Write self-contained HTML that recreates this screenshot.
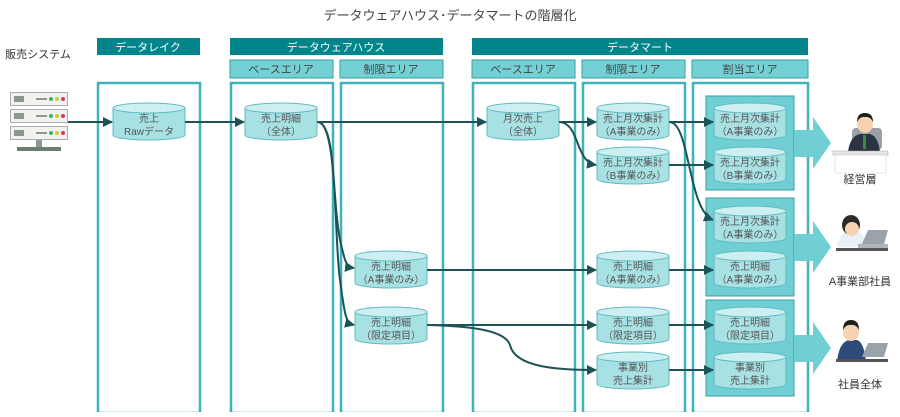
<!DOCTYPE html>
<html><head><meta charset="utf-8"><style>
body{margin:0;background:#fff}
text{font-family:"Liberation Sans","Noto Sans CJK JP",sans-serif}
</style></head><body>
<svg width="900" height="412" viewBox="0 0 900 412" xmlns="http://www.w3.org/2000/svg">
<defs>
<marker id="ah" viewBox="0 0 10 10" refX="9" refY="5" markerWidth="5" markerHeight="5" orient="auto" markerUnits="strokeWidth"><path d="M0,0 L10,5 L0,10 z" fill="#1d5357"/></marker>
<g id="cyl">
<path d="M0,5 V32 A36,5 0 0 0 72,32 V5" fill="#a8e1e4" stroke="#5fbcc1" stroke-width="1"/>
<ellipse cx="36" cy="5" rx="36" ry="5" fill="#cdeff1" stroke="#5fbcc1" stroke-width="1"/>
</g>
</defs>
<text x="450" y="20" font-size="13" fill="#444" text-anchor="middle">データウェアハウス･データマートの階層化</text>
<g fill="#00858a">
<rect x="97" y="38" width="103" height="17"/><rect x="230" y="38" width="213" height="17"/><rect x="472" y="38" width="336" height="17"/>
</g>
<g font-size="11" fill="#fff" text-anchor="middle">
<text x="148" y="51">データレイク</text><text x="336" y="51">データウェアハウス</text><text x="640" y="51">データマート</text>
</g>
<g fill="#73d1d6" stroke="#3a9ea3" stroke-width="1">
<rect x="230" y="60" width="103" height="18"/><rect x="340" y="60" width="103" height="18"/>
<rect x="472" y="60" width="103" height="18"/><rect x="582" y="60" width="103" height="18"/><rect x="692" y="60" width="116" height="18"/>
</g>
<g font-size="11" fill="#444" text-anchor="middle">
<text x="281" y="73">ベースエリア</text><text x="391" y="73">制限エリア</text>
<text x="523" y="73">ベースエリア</text><text x="633" y="73">制限エリア</text><text x="750" y="73">割当エリア</text>
</g>
<g fill="none" stroke="#3fb3b8" stroke-width="2.5">
<rect x="98" y="83" width="102" height="330"/><rect x="231" y="83" width="102" height="330"/><rect x="341" y="83" width="102" height="330"/>
<rect x="473" y="83" width="102" height="330"/><rect x="583" y="83" width="102" height="330"/><rect x="693" y="83" width="115" height="330"/>
</g>
<g fill="#6fcfd4" stroke="#3a9ea3" stroke-width="1">
<rect x="706" y="96" width="88" height="94"/><rect x="706" y="198" width="88" height="98"/><rect x="706" y="300" width="88" height="96"/>
</g>
<g fill="#6fcfd4">
<path d="M794,130 H813 V117 L831,143 L813,169 V157 H794 z"/>
<path d="M794,234 H813 V221 L831,247 L813,273 V261 H794 z"/>
<path d="M794,335 H813 V322 L831,348 L813,374 V362 H794 z"/>
</g>
<use href="#cyl" x="113" y="103"/><use href="#cyl" x="245" y="103"/><use href="#cyl" x="487" y="103"/>
<use href="#cyl" x="597" y="103"/><use href="#cyl" x="597" y="147"/>
<use href="#cyl" x="355" y="251"/><use href="#cyl" x="355" y="307"/>
<use href="#cyl" x="597" y="251"/><use href="#cyl" x="597" y="307"/><use href="#cyl" x="597" y="352"/>
<use href="#cyl" x="714" y="103"/><use href="#cyl" x="714" y="147"/><use href="#cyl" x="714" y="206"/><use href="#cyl" x="714" y="251"/><use href="#cyl" x="714" y="307"/><use href="#cyl" x="714" y="352"/>
<g font-size="10" fill="#555" text-anchor="middle">
<text x="149" y="122">売上</text><text x="149" y="135">Rawデータ</text>
<text x="281" y="122">売上明細</text><text x="281" y="135">（全体）</text>
<text x="523" y="122">月次売上</text><text x="523" y="135">（全体）</text>
<text x="633" y="122">売上月次集計</text><text x="633" y="135">（A事業のみ）</text>
<text x="633" y="166">売上月次集計</text><text x="633" y="179">（B事業のみ）</text>
<text x="391" y="270">売上明細</text><text x="391" y="283">（A事業のみ）</text>
<text x="391" y="326">売上明細</text><text x="391" y="339">（限定項目）</text>
<text x="633" y="270">売上明細</text><text x="633" y="283">（A事業のみ）</text>
<text x="633" y="326">売上明細</text><text x="633" y="339">（限定項目）</text>
<text x="633" y="371">事業別</text><text x="633" y="384">売上集計</text>
<text x="750" y="122">売上月次集計</text><text x="750" y="135">（A事業のみ）</text>
<text x="750" y="166">売上月次集計</text><text x="750" y="179">（B事業のみ）</text>
<text x="750" y="225">売上月次集計</text><text x="750" y="238">（A事業のみ）</text>
<text x="750" y="270">売上明細</text><text x="750" y="283">（A事業のみ）</text>
<text x="750" y="326">売上明細</text><text x="750" y="339">（限定項目）</text>
<text x="750" y="371">事業別</text><text x="750" y="384">売上集計</text>
</g>
<g fill="none" stroke="#1d5357" stroke-width="2" marker-end="url(#ah)">
<path d="M68,122 H112"/><path d="M185,122 H244"/><path d="M317,122 H486"/>
<path d="M318,122 C336,124 332,200 340,240 C345,262 346,267 354,268"/>
<path d="M318,122 C338,124 334,240 340,280 C345,318 346,323 354,325"/>
<path d="M559,122 H596"/>
<path d="M560,122 C580,124 575,162 596,165"/>
<path d="M669,122 H713"/><path d="M669,165 H713"/>
<path d="M670,122 C690,124 688,210 713,220"/>
<path d="M427,270 H596"/><path d="M669,270 H713"/>
<path d="M427,325 H596"/><path d="M669,325 H713"/>
<path d="M427,325 C470,326 505,330 510,345 C515,368 560,370 596,370"/>
<path d="M669,370 H713"/>
</g>
<text x="38" y="58" font-size="11" fill="#333" text-anchor="middle">販売システム</text>
<g>
<rect x="36" y="140" width="6" height="8" fill="#8a9a8e"/>
<rect x="17" y="147" width="44" height="4" fill="#6d7d72"/>
<g fill="#f1f1ef" stroke="#a9afaa">
<rect x="10.5" y="92.5" width="57" height="13"/><rect x="10.5" y="109.5" width="57" height="13"/><rect x="10.5" y="126.5" width="57" height="13"/>
</g>
<g fill="#8d968f"><rect x="14" y="96" width="10" height="6"/><rect x="14" y="113" width="10" height="6"/><rect x="14" y="130" width="10" height="6"/>
<rect x="36" y="98" width="11" height="2"/><rect x="36" y="115" width="11" height="2"/><rect x="36" y="132" width="11" height="2"/></g>
<g><circle cx="51" cy="99" r="2" fill="#3cb371"/><circle cx="57" cy="99" r="2" fill="#d4c62a"/><circle cx="63" cy="99" r="2" fill="#d6336c"/>
<circle cx="51" cy="116" r="2" fill="#3cb371"/><circle cx="57" cy="116" r="2" fill="#d4c62a"/><circle cx="63" cy="116" r="2" fill="#d6336c"/>
<circle cx="51" cy="133" r="2" fill="#3cb371"/><circle cx="57" cy="133" r="2" fill="#d4c62a"/><circle cx="63" cy="133" r="2" fill="#d6336c"/></g>
</g>
<g>
<rect x="852" y="128" width="30" height="22" rx="4" fill="#9aa0a6"/>
<path d="M848,152 Q850,136 860,134 H870 Q878,136 880,152 z" fill="#2b3440"/>
<rect x="863" y="135" width="3" height="14" fill="#3b8a4a"/>
<ellipse cx="865" cy="124" rx="8" ry="9" fill="#f7d2b0"/><path d="M857,122 Q857,113 865,113 Q873,113 873,122 Q870,116 865,117 Q860,116 857,122z" fill="#1d1d1d"/>
<rect x="833" y="151" width="55" height="4" fill="#e6e6e6" stroke="#aaa" stroke-width="0.5"/>
<rect x="835" y="155" width="51" height="18" fill="#fff" stroke="#ccc" stroke-width="0.5"/>
<text x="860" y="183" font-size="11" fill="#333" text-anchor="middle">経営層</text>
</g>
<g>
<path d="M837,247 Q839,233 849,231 H857 Q864,233 866,247 z" fill="#e8f0f8"/>
<ellipse cx="851" cy="225" rx="9" ry="10" fill="#2a2a2a"/>
<ellipse cx="852" cy="229" rx="7" ry="7" fill="#f7d2b0"/>
<rect x="858" y="244" width="30" height="4" fill="#aeb6bd"/>
<path d="M862,244 L868,230 H888 L884,244 z" fill="#9aa3ab"/>
<rect x="836" y="248" width="52" height="3" fill="#555"/>
<text x="860" y="285" font-size="11" fill="#333" text-anchor="middle">A事業部社員</text>
</g>
<g>
<path d="M837,362 Q839,342 849,340 H857 Q864,342 866,362 z" fill="#2e4a7a"/>
<ellipse cx="851" cy="332" rx="8" ry="9" fill="#f7d2b0"/><path d="M843,330 Q843,320 851,320 Q859,320 859,330 Q856,324 851,325 Q846,324 843,330z" fill="#1d1d1d"/>
<path d="M862,357 L868,343 H888 L884,357 z" fill="#9aa3ab"/>
<rect x="836" y="359" width="52" height="3" fill="#555"/>
<text x="860" y="388" font-size="11" fill="#333" text-anchor="middle">社員全体</text>
</g>
</svg>
</body></html>
